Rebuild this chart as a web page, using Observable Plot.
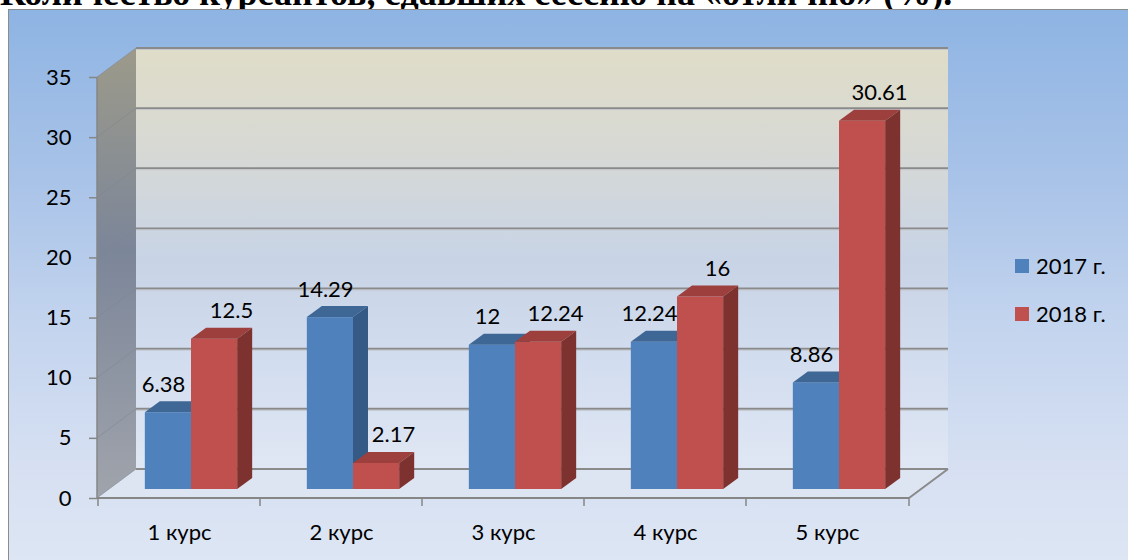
<!DOCTYPE html>
<html>
<head>
<meta charset="utf-8">
<script src="https://cdn.jsdelivr.net/npm/d3@7"></script>
<script src="https://cdn.jsdelivr.net/npm/@observablehq/plot@0.6"></script>
<style>
  html, body { margin: 0; padding: 0; background: #fff; }
  body { width: 1128px; height: 560px; overflow: hidden; position: relative; font-family: Lato, "Noto Sans", sans-serif; }
  #title { position: absolute; left: 0px; top: -25px; font: bold 36px "Liberation Serif", "DejaVu Serif", serif; line-height: 1; white-space: nowrap; color: #000; }
  #frame { position: absolute; left: 8px; top: 9px; width: 1140px; height: 570px; border-left: 1px solid #8c8c8c; border-top: 1px solid #8c8c8c;
           background: linear-gradient(to bottom, #8eb4e3 0%, #a9c3e8 30%, #c3d4ee 55%, #d6e0f2 80%, #dfe7f4 100%); }
  #chart { position: absolute; left: 0; top: 0; }
  #legend { position: absolute; left: 1015px; top: 252px; font: 22px Lato, sans-serif; color: #000; }
  #legend .row { display: flex; align-items: center; height: 27px; margin-bottom: 21px; }
  #legend .sw { width: 14px; height: 14px; margin-right: 7px; }
</style>
</head>
<body>
<div id="title">Количество курсантов, сдавших сессию на «отлично» (%).</div>
<div id="frame"></div>
<div id="chart"></div>
<div id="legend"></div>
<script>
// ---- data ----
const courses = ["1 курс", "2 курс", "3 курс", "4 курс", "5 курс"];
const years = ["2017 г.", "2018 г."];
const v2017 = [6.38, 14.29, 12, 12.24, 8.86];
const v2018 = [12.5, 2.17, 12.24, 16, 30.61];
const yTicks = [0, 5, 10, 15, 20, 25, 30, 35];
const frontColors = ["#4f81bd", "#c0504d"];
const topColors = ["#3f6796", "#9c3f3d"];
const sideColors = ["#365a86", "#7e3230"];

const seriesValues = [v2017, v2018];
const rows = courses.flatMap((c, i) => years.map((yr, j) => ({course: c, year: yr, value: seriesValues[j][i]})));

// ---- 3D styling constants ----
const DX = 39, DY = -29;      // wall depth
const BX = 12, BY = -9;       // bar front offset into depth
const SDX = 15, SDY = -11;    // bar depth
const BAR_FRAC = 0.285;       // each bar's share of a category band

function bandwidthOf(x, dim) {
  if (typeof x.bandwidth === "function") return x.bandwidth();
  if (typeof x.bandwidth === "number") return x.bandwidth;
  return (dim.width - dim.marginLeft - dim.marginRight) / courses.length;
}

function pts(a) { return a.map(p => p.join(",")).join(" "); }

function walls(index, scales, values, dim) {
  const {x, y} = scales;
  const x0 = dim.marginLeft, x1 = dim.width - dim.marginRight;
  const yMax = yTicks[yTicks.length - 1];
  const yTop = y(yMax), yBot = y(0);
  const g = d3.create("svg:g");
  const defs = g.append("defs");
  const gb = defs.append("linearGradient").attr("id", "gBack").attr("x1", 0).attr("y1", 0).attr("x2", 0).attr("y2", 1);
  [["0%", "#dfddc8"], ["22%", "#d8d9d3"], ["50%", "#c8d4e6"], ["75%", "#d2ddef"], ["100%", "#e0e7f4"]]
    .forEach(([o, c]) => gb.append("stop").attr("offset", o).attr("stop-color", c));
  const gl = defs.append("linearGradient").attr("id", "gLeft").attr("x1", 0).attr("y1", 0).attr("x2", 0).attr("y2", 1);
  [["0%", "#9c9a8a"], ["45%", "#7c8699"], ["100%", "#a0a4ac"]]
    .forEach(([o, c]) => gl.append("stop").attr("offset", o).attr("stop-color", c));

  // back wall
  g.append("polygon").attr("points", pts([[x0 + DX, yTop + DY], [x1 + DX, yTop + DY], [x1 + DX, yBot + DY], [x0 + DX, yBot + DY]]))
    .attr("fill", "url(#gBack)");
  // floor
  g.append("polygon").attr("points", pts([[x0, yBot], [x0 + DX, yBot + DY], [x1 + DX, yBot + DY], [x1, yBot]]))
    .attr("fill", "#dde5f2");
  // left wall
  g.append("polygon").attr("points", pts([[x0, yTop], [x0 + DX, yTop + DY], [x0 + DX, yBot + DY], [x0, yBot]]))
    .attr("fill", "url(#gLeft)");
  // gridlines
  for (const t of yTicks) {
    const yy = y(t) + DY;
    g.append("line").attr("x1", x0 + DX).attr("x2", x1 + DX).attr("y1", yy).attr("y2", yy)
      .attr("stroke", "#8a8a8a").attr("stroke-width", 2);
    if (t > 0) g.append("line").attr("x1", x0 + DX).attr("x2", x1 + DX).attr("y1", yy + 1.5).attr("y2", yy + 1.5)
      .attr("stroke", "#c4c8ce").attr("stroke-width", 1);
    g.append("line").attr("x1", x0).attr("y1", y(t)).attr("x2", x0 + DX).attr("y2", yy)
      .attr("stroke", "#7f8590").attr("stroke-opacity", 0.55).attr("stroke-width", 1);
  }
  // floor right edge
  g.append("line").attr("x1", x1).attr("y1", yBot).attr("x2", x1 + DX).attr("y2", yBot + DY)
    .attr("stroke", "#8a8a8a").attr("stroke-width", 2);
  // front axis lines
  g.append("line").attr("x1", x0).attr("x2", x0).attr("y1", yTop).attr("y2", yBot)
    .attr("stroke", "#868686").attr("stroke-width", 1.5);
  g.append("line").attr("x1", x0).attr("x2", x1).attr("y1", yBot).attr("y2", yBot)
    .attr("stroke", "#868686").attr("stroke-width", 2);
  // category boundary ticks
  const edges = courses.map(c => x(c)).concat([x1]);
  for (const e of edges) {
    g.append("line").attr("x1", e).attr("x2", e).attr("y1", yBot).attr("y2", yBot + 8)
      .attr("stroke", "#868686").attr("stroke-width", 1.5);
  }
  return g.node();
}

function bars3d(index, scales, values, dim) {
  const {x, y} = scales;
  const bw = bandwidthOf(x, dim);
  const w = bw * BAR_FRAC;
  const g = d3.create("svg:g");
  courses.forEach((c, i) => {
    const cx = x(c) + bw / 2 + BX;
    seriesValues.forEach((vals, j) => {
      const xl = cx - w + j * w, xr = xl + w;
      const yb = y(0) + BY, yt = y(vals[i]) + BY;
      g.append("rect").attr("x", xl).attr("y", yt).attr("width", w).attr("height", yb - yt).attr("fill", frontColors[j]);
      g.append("polygon").attr("points", pts([[xl, yt], [xl + SDX, yt + SDY], [xr + SDX, yt + SDY], [xr, yt]])).attr("fill", topColors[j]);
      g.append("polygon").attr("points", pts([[xr, yt], [xr + SDX, yt + SDY], [xr + SDX, yb + SDY], [xr, yb]])).attr("fill", sideColors[j]);
    });
  });
  return g.node();
}

const chart = Plot.plot({
  width: 1128,
  height: 560,
  marginLeft: 97,
  marginRight: 219,
  marginTop: 77,
  marginBottom: 62,
  x: {type: "band", domain: courses, padding: 0, axis: null, label: null},
  y: {domain: [0, yTicks[yTicks.length - 1]], axis: null, label: null},
  style: {background: "transparent", fontFamily: "Lato, sans-serif", fontSize: "22px", color: "#000", overflow: "visible"},
  marks: [
    walls,
    bars3d,
    Plot.axisY(yTicks, {anchor: "left", label: null, tickSize: 8, tickPadding: 18, stroke: "#868686", strokeWidth: 1.5, fill: "#000", fontSize: 22}),
    Plot.axisX({anchor: "bottom", label: null, tickSize: 0, tickPadding: 26, fill: "#000", fontSize: 22}),
    Plot.text(rows.filter(d => d.year === years[0]), {x: "course", y: "value", text: d => String(d.value), dx: -16, dy: -37, fill: "#000", fontSize: 22}),
    Plot.text(rows.filter(d => d.year === years[1]), {x: "course", y: "value", text: d => String(d.value), dx: 52, dy: -37, fill: "#000", fontSize: 22})
  ]
});
document.getElementById("chart").appendChild(chart);

const legend = d3.select("#legend");
years.forEach((yr, j) => {
  const row = legend.append("div").attr("class", "row");
  row.append("div").attr("class", "sw").style("background", frontColors[j]);
  row.append("span").text(yr);
});
</script>
</body>
</html>
